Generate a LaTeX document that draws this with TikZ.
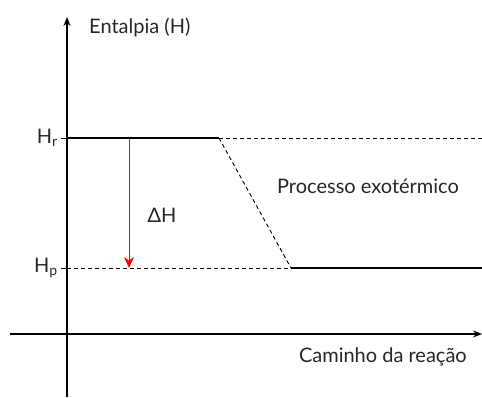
\documentclass[tikz,border=0pt]{standalone}
\usepackage{fontspec}
\setmainfont{Lato}
\usetikzlibrary{arrows.meta}

\begin{document}
\begin{tikzpicture}[x=1pt,y=1pt,
  eixo/.style={line width=1.1pt,-{Stealth[length=9pt,width=7pt]}},
  nivel/.style={line width=2.6pt},
  tracejado/.style={line width=0.9pt,dash pattern=on 4pt off 3pt},
  rotulo/.style={font=\fontsize{20}{24}\selectfont,text=black!85,inner sep=0pt}]
% Níveis de entalpia
\def\hr{259}
\def\hp{129}

\useasboundingbox (0,0) rectangle (482,397);

% Eixos
\coordinate (ybase) at (67,0);
\coordinate (ytopo) at (67,380);
\coordinate (xesq) at (10,63);
\coordinate (xdir) at (482,63);
\draw[eixo] (ybase) -- (ytopo);
\draw[eixo] (xesq) -- (xdir);

% Pontos dos níveis
\coordinate (r0) at (67,\hr);
\coordinate (r1) at (219,\hr);
\coordinate (r2) at (482,\hr);
\coordinate (p0) at (67,\hp);
\coordinate (p1) at (291,\hp);
\coordinate (p2) at (482,\hp);

% Reagentes e produtos
\draw[nivel] (r0) -- (r1);
\draw[nivel] (p1) -- (p2);
\draw[tracejado] (r1) -- (r2);
\draw[tracejado] (r1) -- (p1);
\draw[tracejado] (p0) -- (p1);

% Marcas no eixo
\draw[line width=0.9pt] (r0) -- ++(-6,0);
\draw[line width=0.9pt] (p0) -- ++(-6,0);

% Variação de entalpia
\coordinate (dh0) at (129,\hr);
\coordinate (dh1) at (129,\hp);
\draw[red,line width=1pt,-{Stealth[length=11pt,width=10pt]}] (dh0) -- (dh1);

% Textos
\node[rotulo,anchor=east] (hrlab) at (58,\hr) {H\textsubscript{r}};
\node[rotulo,anchor=east] (hplab) at (58,\hp) {H\textsubscript{p}};
\node[rotulo] (dhlab) at (162,182) {ΔH};
\node[rotulo] (processo) at (368,211) {Processo exotérmico};
\node[rotulo,anchor=west] (entalpia) at (89,370) {Entalpia (H)};
\node[rotulo,anchor=east] (caminho) at (467,40) {Caminho da reação};
\end{tikzpicture}
\end{document}
